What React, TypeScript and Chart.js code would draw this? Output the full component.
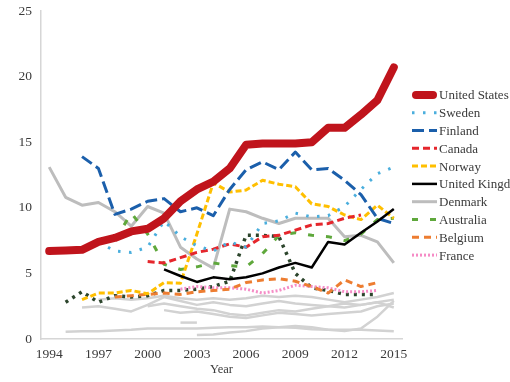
import React, { useEffect, useRef } from "react";
import { Chart, registerables } from "chart.js";

Chart.register(...registerables);

const years = [1994, 1995, 1996, 1997, 1998, 1999, 2000, 2001, 2002, 2003, 2004, 2005, 2006, 2007, 2008, 2009, 2010, 2011, 2012, 2013, 2014, 2015];
const xTickYears = [1994, 1997, 2000, 2003, 2006, 2009, 2012, 2015];

const unitedStates = [6.7, 6.75, 6.8, 7.4, 7.7, 8.2, 8.4, 9.2, 10.5, 11.4, 12.0, 13.0, 14.8, 14.9, 14.9, 14.9, 15.0, 16.1, 16.1, 17.1, 18.2, 20.7];
const sweden = [null, null, null, 7.4, 6.7, 6.6, 7.0, 9.0, 7.8, 7.1, 6.7, 7.4, 7.0, 8.8, 9.0, 9.6, 9.3, 9.4, 10.1, 11.4, 12.6, 13.1];
const finland = [null, null, 13.9, 13.0, 9.5, 9.9, 10.5, 10.7, 9.7, 10.0, 9.4, 11.4, 12.9, 13.5, 12.9, 14.25, 12.9, 13.0, 12.1, 11.0, 9.2, 8.8];
const canada = [null, null, null, null, null, null, 5.9, 5.8, 6.2, 6.6, 6.85, 7.25, 7.0, 7.8, 7.9, 8.3, 8.7, 8.8, 9.2, 9.45, null, null];
const norway = [null, null, 3.0, 3.5, 3.5, 3.7, 3.45, 4.3, 4.25, 8.0, 11.9, 11.2, 11.35, 12.1, 11.8, 11.6, 10.3, 10.1, 9.45, 9.1, 10.2, 9.2];
const unitedKingdom = [null, null, null, null, null, null, null, 5.3, 4.8, 4.35, 4.7, 4.55, 4.7, 5.0, 5.45, 5.8, 5.45, 7.4, 7.2, 8.1, 8.95, 9.9];
const denmark = [13.1, 10.8, 10.2, 10.4, 9.7, 8.6, 10.1, 9.6, 7.0, 6.1, 5.4, 9.9, 9.7, 9.2, 8.8, 9.2, 9.2, 9.2, 7.8, 7.9, 7.4, 5.8];
const australia = [null, null, null, null, 7.5, 9.6, 8.0, 5.7, 5.3, 5.5, 5.8, 5.6, 5.5, 6.5, 7.9, 8.1, 7.9, 7.8, 7.5, 8.0, 9.1, 9.2];
const belgium = [null, null, null, null, 3.2, 3.3, 3.4, 3.5, 3.4, 3.6, 3.7, 3.8, 4.3, 4.5, 4.6, 4.4, 4.0, 3.5, 4.5, 4.0, 4.3, null];
const france = [null, null, null, null, null, null, null, null, 3.8, 4.0, 3.9, 3.9, 3.8, 3.5, 3.7, 4.1, 4.0, 3.9, 3.6, 3.6, 3.7, null];
const otherDotted = [null, 2.8, 3.6, 2.8, 3.3, 3.2, 3.3, 3.7, 3.7, 3.8, 4.0, 4.4, 7.9, 7.9, 7.8, 5.0, 3.9, 3.7, 3.4, 3.4, 3.4, null];
const grayA = [null, null, 2.4, 2.5, 2.3, 2.1, 2.6, 3.2, 2.9, 2.6, 2.8, 2.6, 2.5, 2.7, 2.9, 2.7, 2.6, 2.5, 2.4, 2.6, 2.8, 3.0];
const grayB = [null, null, null, 3.0, 3.1, 3.0, 3.1, 3.3, 3.1, 3.0, 3.1, 3.0, 3.1, 3.3, 3.2, 3.3, 3.2, 3.0, 2.8, 3.0, 3.2, 3.5];
const grayC = [null, null, null, null, null, null, 2.5, 2.7, 2.5, 2.3, 2.2, 1.9, 1.8, 2.0, 2.2, 2.1, 2.3, 2.5, 2.7, 2.6, 2.8, 2.4];
const grayD = [null, null, null, null, null, null, null, 2.2, 2.0, 2.1, 1.9, 1.7, 1.6, 1.8, 2.0, 1.9, 1.8, 1.9, 2.0, 2.1, 2.5, 2.7];
const grayE = [null, 0.55, 0.6, 0.6, 0.65, 0.7, 0.8, 0.8, 0.8, 0.8, 0.85, 0.9, 0.9, 0.95, 0.9, 0.85, 0.75, 0.7, 0.7, 0.7, 0.65, 0.6];
const grayF = [null, null, null, null, null, null, null, null, null, 0.3, 0.35, 0.5, 0.6, 0.8, 0.9, 1.0, 0.9, 0.7, 0.6, 0.8, 1.7, 2.9];
const grayG = [null, null, null, null, null, null, null, null, 1.25, 1.25, null, null, null, null, null, null, null, null, null, null, null, null];

const legendNames = ["United States", "Sweden", "Finland", "Canada", "Norway", "United Kingdom", "Denmark", "Australia", "Belgium", "France"];

const FONT = "'Liberation Serif', 'Times New Roman', serif";
const TEXT = "#3a3a3a";

function pts(values: (number | null)[]) {
  return years.map((y, i) => ({ x: y, y: values[i] }));
}

function line(label: string, values: (number | null)[], color: string, width: number, dash: number[], cap: CanvasLineCap = "butt") {
  return {
    label,
    data: pts(values),
    borderColor: color,
    backgroundColor: color,
    borderWidth: width,
    borderDash: dash,
    borderCapStyle: cap,
    borderJoinStyle: "round" as CanvasLineJoin,
    pointRadius: 0,
    pointHoverRadius: 0,
    fill: false,
    tension: 0,
    spanGaps: false,
  };
}

const sideLegend = {
  id: "sideLegend",
  afterDraw(chart: any) {
    const { ctx, chartArea } = chart;
    const step = 17.8;
    const n = legendNames.length;
    const cy = (chartArea.top + chartArea.bottom) / 2;
    const startY = cy - ((n - 1) / 2) * step;
    ctx.save();
    legendNames.forEach((name, i) => {
      const ds = chart.data.datasets.find((d: any) => d.label === name);
      if (!ds) return;
      const y = startY + i * step;
      const x0 = chartArea.right + 10;
      const x1 = chartArea.right + 35;
      ctx.beginPath();
      ctx.strokeStyle = ds.borderColor;
      ctx.lineWidth = ds.borderWidth;
      ctx.setLineDash(ds.borderDash || []);
      ctx.lineCap = ds.borderCapStyle || "butt";
      if (ds.borderCapStyle === "round") {
        ctx.moveTo(x0 + ds.borderWidth / 2, y);
        ctx.lineTo(x1 - ds.borderWidth / 2, y);
      } else {
        ctx.moveTo(x0, y);
        ctx.lineTo(x1, y);
      }
      ctx.stroke();
      ctx.setLineDash([]);
      ctx.fillStyle = TEXT;
      ctx.font = `13px ${FONT}`;
      ctx.textAlign = "left";
      ctx.textBaseline = "middle";
      ctx.fillText(name, x1 + 2, y + 1);
    });
    ctx.restore();
  },
};

export default function App() {
  const ref = useRef<HTMLCanvasElement | null>(null);

  useEffect(() => {
    if (!ref.current) return;
    const gray = "#d2d2d2";
    const chart = new Chart(ref.current, {
      type: "line",
      data: {
        datasets: [
          line("United States", unitedStates, "#c0141c", 8, [], "round"),
          line("United Kingdom", unitedKingdom, "#000000", 2.5, []),
          line("Finland", finland, "#1b5fab", 3, [12, 5]),
          line("Sweden", sweden, "#4aaedd", 3, [2.5, 8.5]),
          line("Canada", canada, "#e5262c", 3, [7, 4]),
          line("Norway", norway, "#ffbf00", 3, [6, 3]),
          line("Australia", australia, "#5fa83c", 3, [6, 12]),
          line("Belgium", belgium, "#ed7d31", 3, [7, 5]),
          line("France", france, "#f58cc6", 3, [2, 2]),
          line("Other", otherDotted, "#2c452c", 3.5, [3, 5]),
          line("Denmark", denmark, "#bdbdbd", 3, []),
          line("", grayA, gray, 2.5, []),
          line("", grayB, gray, 2.5, []),
          line("", grayC, gray, 2.5, []),
          line("", grayD, gray, 2.5, []),
          line("", grayE, gray, 2.5, []),
          line("", grayF, gray, 2.5, []),
          line("", grayG, gray, 2.5, []),
        ] as any,
      },
      options: {
        animation: false,
        responsive: false,
        events: [],
        layout: { padding: { top: 11, right: 108, left: 0, bottom: 0 } },
        plugins: {
          legend: { display: false },
          tooltip: { enabled: false },
          title: { display: false },
        },
        scales: {
          x: {
            type: "linear",
            min: 1993.5,
            max: 2015.5,
            afterBuildTicks: (scale: any) => {
              scale.ticks = xTickYears.map((v) => ({ value: v }));
            },
            afterFit: (scale: any) => {
              scale.height = 43;
              scale.paddingLeft = 0;
              scale.paddingRight = 0;
            },
            grid: { display: false, drawTicks: false },
            border: { display: true, color: "#d6d6d6", width: 1.5 },
            ticks: {
              autoSkip: false,
              maxRotation: 0,
              padding: 7,
              color: TEXT,
              font: { family: FONT, size: 13.5 },
              callback: (v: any) => String(v),
            },
            title: {
              display: true,
              text: "Year",
              color: TEXT,
              font: { family: FONT, size: 12.5 },
              padding: { top: 0, bottom: 5 },
            },
          },
          y: {
            min: 0,
            max: 25,
            afterFit: (scale: any) => {
              scale.width = 41;
              scale.paddingTop = 0;
              scale.paddingBottom = 0;
            },
            grid: { display: false, drawTicks: false },
            border: { display: true, color: "#d6d6d6", width: 1.5 },
            ticks: {
              stepSize: 5,
              padding: 9,
              color: TEXT,
              font: { family: FONT, size: 13.5 },
            },
          },
        },
      },
      plugins: [sideLegend],
    } as any);
    return () => chart.destroy();
  }, []);

  return (
    <div style={{ position: "absolute", left: 0, top: 0, width: 510, height: 382, background: "#fff" }}>
      <canvas ref={ref} width={510} height={382} style={{ display: "block" }} />
    </div>
  );
}
